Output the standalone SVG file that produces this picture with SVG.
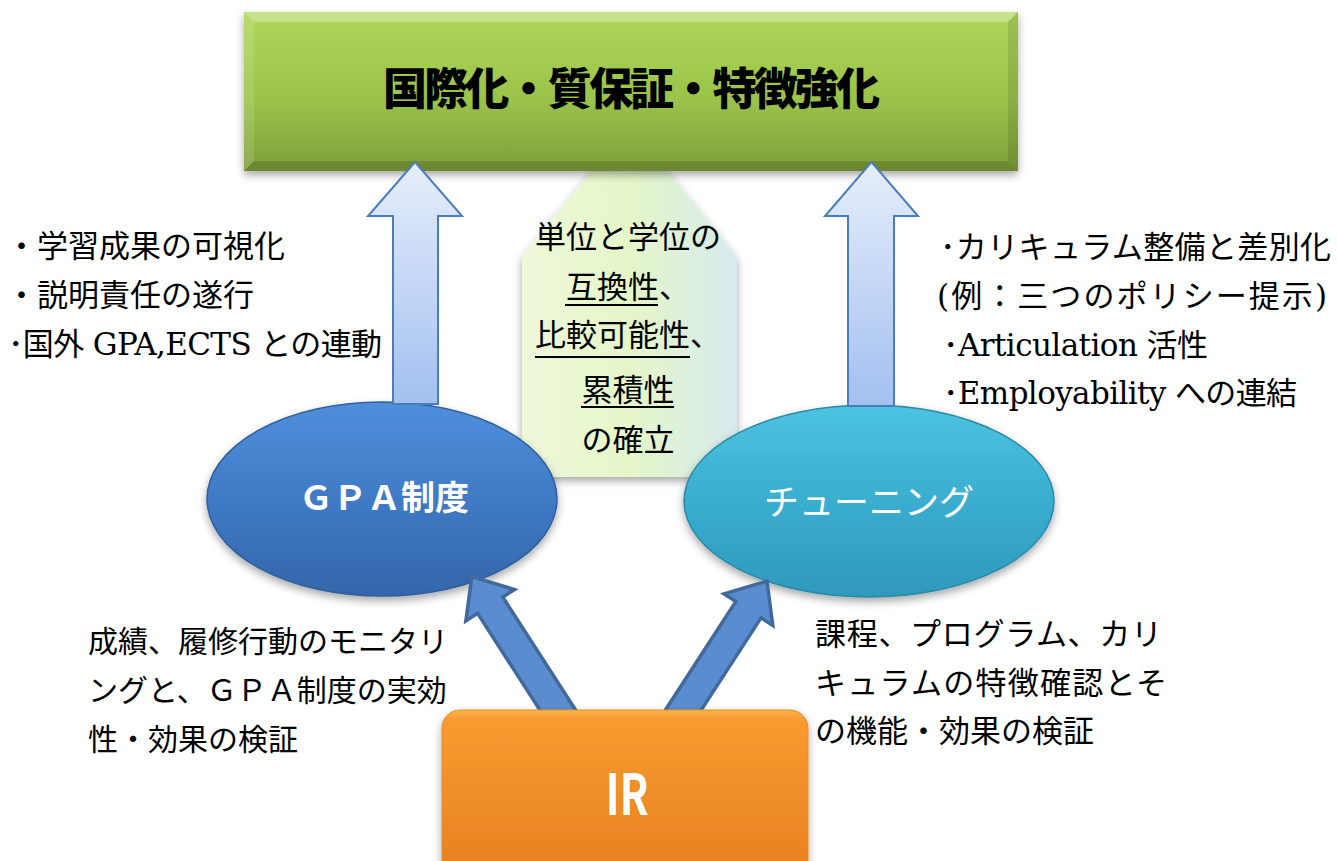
<svg xmlns="http://www.w3.org/2000/svg" width="1337" height="861" viewBox="0 0 1337 861">
<defs>
<style>
.ann { font-family: "DejaVu Serif", "Noto Sans CJK JP", serif; font-size: 31px; fill: #000; }
.up { fill: url(#gUp); stroke: #4a7ebb; stroke-width: 2; }
.blue { fill: #5a8dcf; stroke: #41699c; stroke-width: 3.5; stroke-linejoin: miter; }
.ul { stroke: #000; stroke-width: 2; }
.lbl { font-family: "Noto Sans CJK JP", sans-serif; fill: #fff; }
</style>
<linearGradient id="gGoal" x1="0" y1="0" x2="0" y2="1">
<stop offset="0" stop-color="#afd758"/><stop offset="0.55" stop-color="#9bc34a"/><stop offset="1" stop-color="#7f9e3a"/>
</linearGradient>
<linearGradient id="gNote" x1="0" y1="0" x2="1" y2="0">
<stop offset="0" stop-color="#eef8da"/><stop offset="0.5" stop-color="#e5f6c8"/><stop offset="1" stop-color="#d6eaee"/>
</linearGradient>
<linearGradient id="gUp" x1="0" y1="0" x2="0" y2="1">
<stop offset="0" stop-color="#e6eefb"/><stop offset="1" stop-color="#a3c0f0"/>
</linearGradient>
<linearGradient id="gGpa" x1="0" y1="0" x2="0" y2="1">
<stop offset="0" stop-color="#4f8fdc"/><stop offset="0.6" stop-color="#3d76c0"/><stop offset="1" stop-color="#3466a9"/>
</linearGradient>
<linearGradient id="gTun" x1="0" y1="0" x2="0" y2="1">
<stop offset="0" stop-color="#4cc3e1"/><stop offset="0.6" stop-color="#37a9cc"/><stop offset="1" stop-color="#2f99bb"/>
</linearGradient>
<linearGradient id="gIr" x1="0" y1="0" x2="0" y2="1">
<stop offset="0" stop-color="#fdb846"/><stop offset="0.05" stop-color="#f99a30"/><stop offset="1" stop-color="#e47f1f"/>
</linearGradient>
<filter id="shadow" x="-10%" y="-10%" width="120%" height="130%">
<feDropShadow dx="0" dy="4" stdDeviation="4" flood-color="#000" flood-opacity="0.35"/>
</filter>
</defs>

<g id="center-note">
<polygon points="629.5,124 737,257 737,477 522,477 522,257" fill="url(#gNote)" filter="url(#shadow)"/>
<g class="ann" text-anchor="middle">
<text x="628" y="248">単位と学位の</text>
<text x="628" y="298">互換性、</text>
<text x="628" y="346">比較可能性、</text>
<text x="628" y="401">累積性</text>
<text x="628" y="451">の確立</text>
</g>
<line class="ul" x1="565" y1="305" x2="658" y2="305"/>
<line class="ul" x1="535" y1="357" x2="690" y2="357"/>
<line class="ul" x1="581" y1="407" x2="674" y2="407"/>
</g>

<g id="goal">
<rect x="244" y="12" width="774" height="159" fill="url(#gGoal)" filter="url(#shadow)"/>
<polygon points="244,12 1018,12 1008,22 254,22" fill="#fff" opacity="0.3"/>
<polygon points="244,171 1018,171 1008,161 254,161" fill="#000" opacity="0.15"/>
<polygon points="244,12 254,22 254,161 244,171" fill="#fff" opacity="0.12"/>
<polygon points="1018,12 1008,22 1008,161 1018,171" fill="#000" opacity="0.1"/>
<text x="383" y="105" textLength="497" font-family="Noto Sans CJK JP, sans-serif" font-size="44" font-weight="900" fill="#000">国際化・質保証・特徴強化</text>
</g>

<g id="gpa">
<ellipse cx="382" cy="499" rx="175" ry="97" fill="url(#gGpa)" stroke="#2f5e9c" stroke-width="1.5" filter="url(#shadow)"/>
<text class="lbl" x="384" y="510" text-anchor="middle" font-size="34" font-weight="bold">ＧＰＡ制度</text>
</g>

<g id="tuning">
<ellipse cx="869" cy="501" rx="185" ry="96" fill="url(#gTun)" stroke="#2a88a8" stroke-width="1.5" filter="url(#shadow)"/>
<text class="lbl" x="869" y="515" text-anchor="middle" font-size="35">チューニング</text>
</g>

<g id="connectors">
<path class="up" d="M393,404 L393,216 L368,216 L415,162 L462,216 L438,216 L438,404 Z"/>
<path class="up" d="M848,406 L848,216 L825,216 L871.5,162 L918,216 L894,216 L894,406 Z"/>
<path class="blue" transform="translate(559,712) rotate(-32.8)" d="M-15,30 L-15,-127 L-29,-127 L0,-161 L29,-127 L15,-127 L15,30 Z"/>
<path class="blue" transform="translate(682,712) rotate(33)" d="M-15,30 L-15,-122 L-29,-122 L0,-156 L29,-122 L15,-122 L15,30 Z"/>
</g>

<g id="ir">
<rect x="442" y="710" width="366" height="180" rx="18" fill="url(#gIr)" stroke="#e88a2a" stroke-width="1" filter="url(#shadow)"/>
<text class="lbl" transform="translate(627,815) scale(0.75,1)" text-anchor="middle" font-family="Liberation Sans, sans-serif" font-size="57" font-weight="bold">IR</text>
</g>

<g id="notes-left" class="ann">
<text x="6" y="257">・学習成果の可視化</text>
<text x="6" y="306">・説明責任の遂行</text>
<text x="8" y="355" textLength="374">･国外 GPA,ECTS との連動</text>
</g>

<g id="notes-right" class="ann">
<text x="940" y="258" textLength="391">･カリキュラム整備と差別化</text>
<text x="937" y="307" textLength="390">(例：三つのポリシー提示)</text>
<text x="943" y="356" textLength="265">･Articulation 活性</text>
<text x="943" y="404" textLength="354">･Employability への連結</text>
</g>

<g id="notes-bottom-left" class="ann" font-size="30">
<text x="88" y="652" style="font-size:30px">成績、履修行動のモニタリ</text>
<text x="88" y="701" style="font-size:30px">ングと、ＧＰＡ制度の実効</text>
<text x="88" y="750" style="font-size:30px">性・効果の検証</text>
</g>

<g id="notes-bottom-right" class="ann">
<text x="815" y="645" textLength="347">課程、プログラム、カリ</text>
<text x="815" y="694" textLength="352">キュラムの特徴確認とそ</text>
<text x="815" y="742">の機能・効果の検証</text>
</g>
</svg>
